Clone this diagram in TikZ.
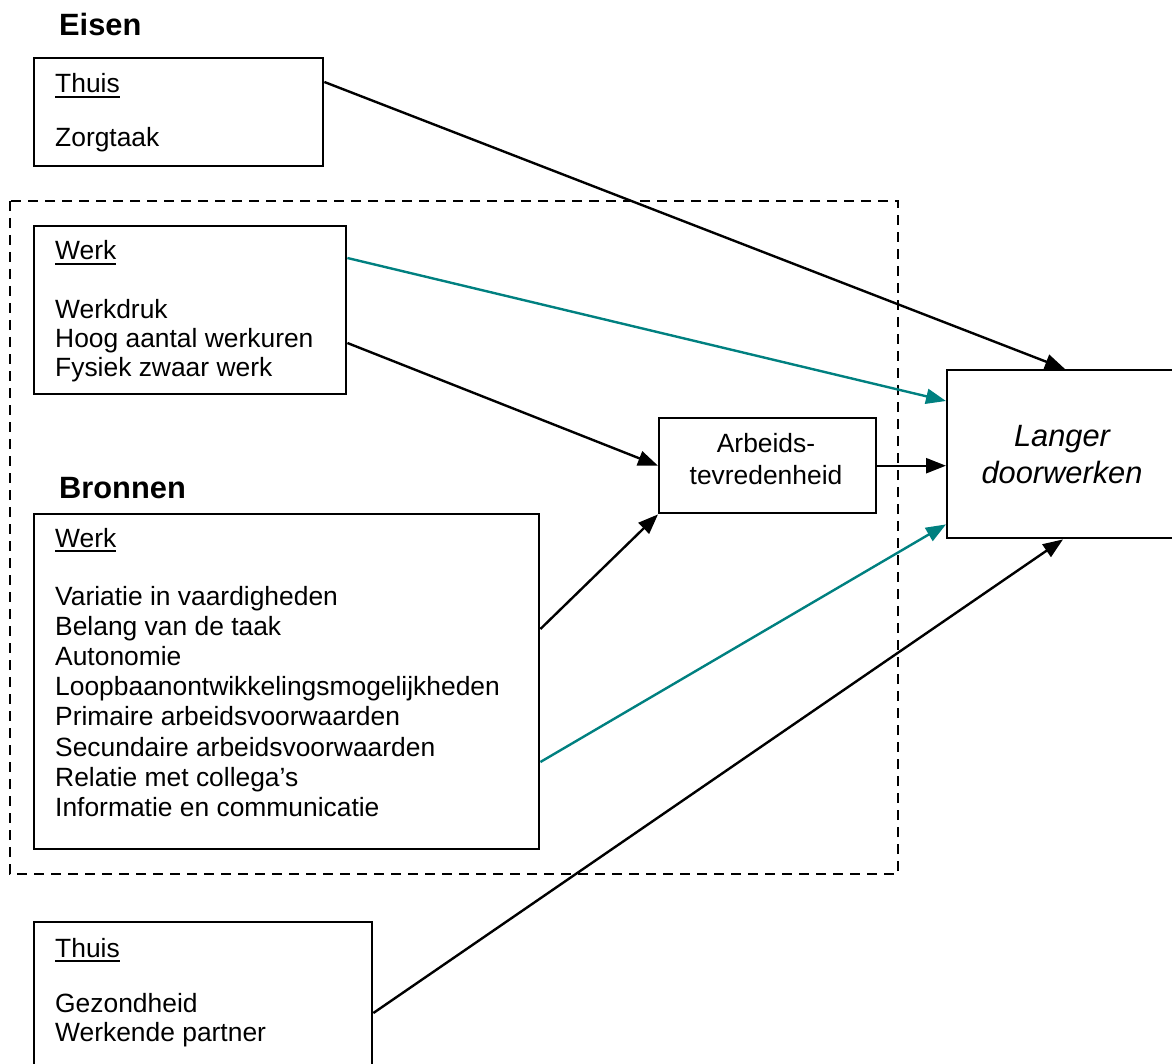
\documentclass[tikz,border=0pt]{standalone}
\usepackage{fontspec}
\setmainfont{Liberation Sans}
\usetikzlibrary{arrows.meta,calc}

\definecolor{pathteal}{RGB}{0,128,128}
\newcommand{\ulbl}[1]{\leavevmode\vtop{\hbox{#1}\kern3pt\hrule height 2pt}}

\tikzset{
  box/.style={draw, line width=2.4pt, anchor=north west, inner sep=0pt},
  txt/.style={anchor=base west, inner sep=0pt, font=\fontsize{26.4}{30.4}\selectfont},
  ctxt/.style={txt, anchor=base},
  head/.style={txt, font=\fontsize{30.8}{35.4}\selectfont\bfseries},
  link/.style={line width=2.4pt, -{Triangle[length=20pt,width=15pt]}},
}

\begin{document}
\begin{tikzpicture}[x=1pt,y=-1pt]
  \useasboundingbox (0,0) rectangle (1172,1064);

  % Eisen
  \node[head] (eisen) at (59,36) {Eisen};
  \node[box, minimum width=289pt, minimum height=108pt] (thuisE) at (33,57) {};
  \node[txt] (thuisElbl) at (55,93) {\ulbl{Thuis}};
  \node[txt] (zorg) at (55,147) {Zorgtaak};

  \draw[line width=2.6pt, dash pattern=on 10pt off 7pt] (10,201) rectangle (898,874);

  \node[box, minimum width=312pt, minimum height=168pt] (werkE) at (33,225) {};
  \node[txt] (werkElbl) at (55,260) {\ulbl{Werk}};
  \foreach \item [count=\i] in {Werkdruk, Hoog aantal werkuren, Fysiek zwaar werk}
    \node[txt] (werkItem\i) at (55,{289+29.2*\i}) {\item};

  % Bronnen
  \node[head] (bronnen) at (59,498) {Bronnen};
  \node[box, minimum width=505pt, minimum height=335pt] (bronB) at (33,513) {};
  \node[txt] (bronBlbl) at (55,547) {\ulbl{Werk}};
  \foreach \item [count=\i] in {Variatie in vaardigheden, Belang van de taak, Autonomie,
      Loopbaanontwikkelingsmogelijkheden, Primaire arbeidsvoorwaarden,
      Secundaire arbeidsvoorwaarden, Relatie met collega’s, Informatie en communicatie}
    \node[txt] (bronItem\i) at (55,{574.8+30.2*\i}) {\item};

  \node[box, minimum width=338pt, minimum height=180pt] (thuisB) at (33,921) {};
  \node[txt] (thuisBlbl) at (55,957) {\ulbl{Thuis}};
  \node[txt] (gezond) at (55,1012) {Gezondheid};
  \node[txt] (partner) at (55,1041) {Werkende partner};

  % mediator and outcome
  \node[box, minimum width=217pt, minimum height=95pt] (arbeid) at (658,417) {};
  \node[ctxt] (arbeidA) at (766,452) {Arbeids-};
  \node[ctxt] (arbeidB) at (766,484) {tevredenheid};

  \node[box, minimum width=236pt, minimum height=168pt] (langer) at (946,369) {};
  \node[ctxt, font=\fontsize{30.8}{35.4}\selectfont\itshape] (langerA) at (1062,446) {Langer};
  \node[ctxt, font=\fontsize{30.8}{35.4}\selectfont\itshape] (langerB) at (1062,483) {doorwerken};

  % paths
  \draw[link] ($(thuisE.north east)+(0,25)$) -- ($(langer.north west)+(119,0)$);
  \draw[link, pathteal] ($(werkE.north east)+(0,33)$) -- ($(langer.north west)+(0,32)$);
  \draw[link] ($(werkE.north east)+(0,118)$) -- (arbeid.west);
  \draw[link] (arbeid.east) -- (arbeid.east -| langer.west);
  \draw[link] ($(bronB.north east)+(0,116)$) -- (arbeid.south west);
  \draw[link, pathteal] ($(bronB.north east)+(0,249)$) -- ($(langer.south west)+(0,-15)$);
  \draw[link] ($(thuisB.north east)+(0,92)$) -- ($(langer.south west)+(117,0)$);
\end{tikzpicture}
\end{document}
